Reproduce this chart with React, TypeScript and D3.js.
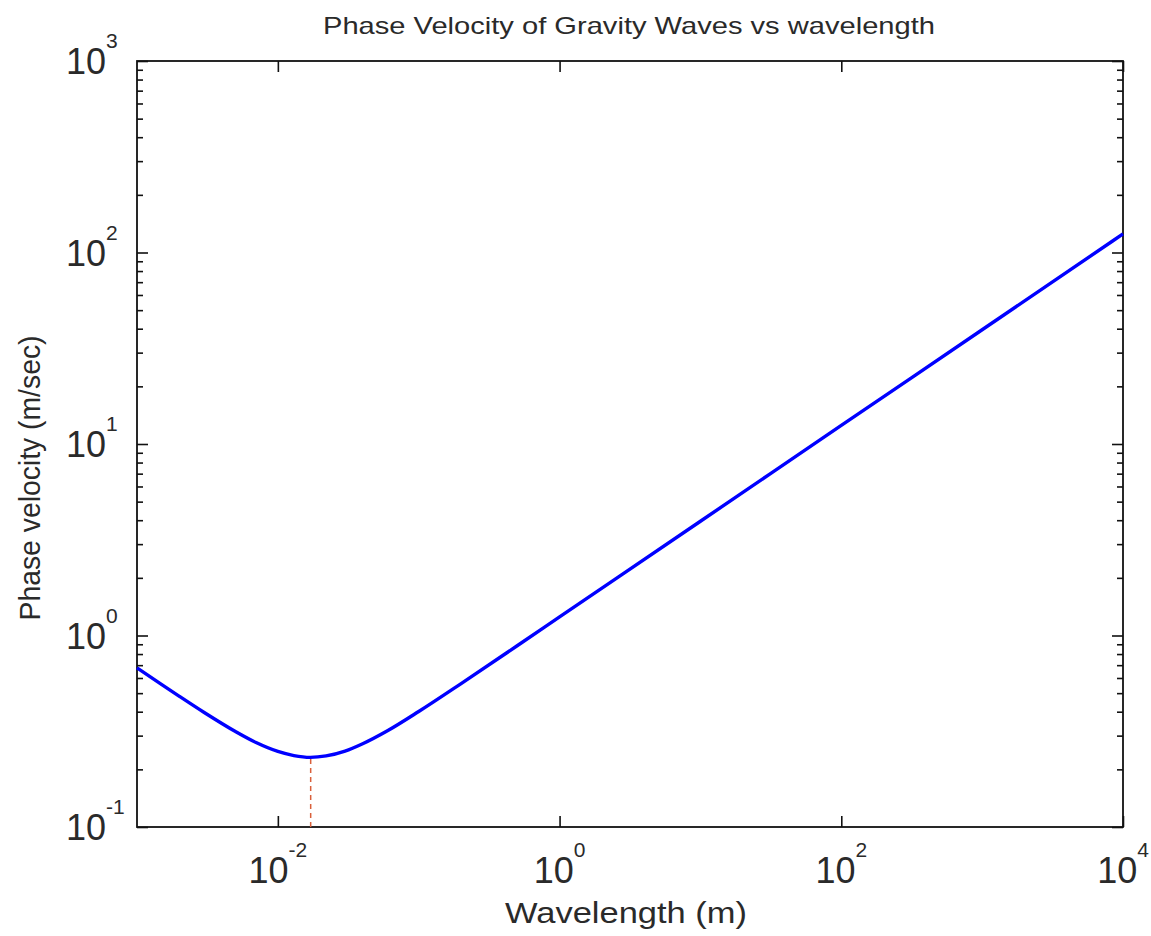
import React, { useRef, useEffect } from 'react';
import * as d3 from 'd3';

// values
const wavelength = [0.001, 0.0015, 0.002, 0.003, 0.005, 0.007, 0.01, 0.013, 0.017, 0.022, 0.03, 0.04, 0.06, 0.1, 0.2, 0.5, 1, 10, 100, 1000, 10000];
const velocity = [0.678, 0.554, 0.481, 0.396, 0.315, 0.276, 0.248, 0.236, 0.231, 0.235, 0.249, 0.272, 0.318, 0.401, 0.561, 0.884, 1.25, 3.95, 12.5, 39.5, 125];

const minWavelength = 0.0171;
const minVelocity = 0.231;

const xTickValues = [1e-2, 1, 1e2, 1e4];
const xTickExponents = ['-2', '0', '2', '4'];
const yTickValues = [1e-1, 1, 1e1, 1e2, 1e3];
const yTickExponents = ['-1', '0', '1', '2', '3'];

const W = 1151;
const H = 936;
const margin = { top: 61, right: 28, bottom: 109, left: 137 };
const FONT = 'Liberation Sans, Arial, Helvetica, sans-serif';
const TEXT = '#2a2a2a';

export default function App() {
    const svgRef = useRef<SVGSVGElement>(null);

    useEffect(() => {
        const svg = d3.select(svgRef.current);
        svg.selectAll('*').remove();

        const x = d3.scaleLog()
            .domain([1e-3, 1e4])
            .range([margin.left, W - margin.right]);
        const y = d3.scaleLog()
            .domain([1e-1, 1e3])
            .range([H - margin.bottom, margin.top]);

        const x0 = margin.left, x1 = W - margin.right;
        const y0 = H - margin.bottom, y1 = margin.top;

        // minor y ticks 2..9 per decade
        const yMinor: number[] = [];
        for (let e = -1; e < 3; e++) {
            for (let m = 2; m <= 9; m++) yMinor.push(m * Math.pow(10, e));
        }

        const styleAxis = (g: any) => {
            g.select('.domain').remove();
            g.selectAll('.tick line').attr('stroke', '#111').attr('stroke-width', 1.6);
            g.selectAll('.tick text').remove();
        };

        // bottom / top ticks (inward)
        svg.append('g').attr('transform', `translate(0,${y0})`)
            .call(d3.axisBottom(x).tickValues(xTickValues).tickSize(-11).tickFormat(() => ''))
            .call(styleAxis);
        svg.append('g').attr('transform', `translate(0,${y1})`)
            .call(d3.axisTop(x).tickValues(xTickValues).tickSize(-11).tickFormat(() => ''))
            .call(styleAxis);

        // left / right ticks, major and minor
        svg.append('g').attr('transform', `translate(${x0},0)`)
            .call(d3.axisLeft(y).tickValues(yTickValues).tickSize(-11).tickFormat(() => ''))
            .call(styleAxis);
        svg.append('g').attr('transform', `translate(${x0},0)`)
            .call(d3.axisLeft(y).tickValues(yMinor).tickSize(-6).tickFormat(() => ''))
            .call(styleAxis);
        svg.append('g').attr('transform', `translate(${x1},0)`)
            .call(d3.axisRight(y).tickValues(yTickValues).tickSize(-11).tickFormat(() => ''))
            .call(styleAxis);
        svg.append('g').attr('transform', `translate(${x1},0)`)
            .call(d3.axisRight(y).tickValues(yMinor).tickSize(-6).tickFormat(() => ''))
            .call(styleAxis);

        // frame
        svg.append('rect')
            .attr('x', x0).attr('y', y1)
            .attr('width', x1 - x0).attr('height', y0 - y1)
            .attr('fill', 'none')
            .attr('stroke', '#111')
            .attr('stroke-width', 1.8);

        // x tick labels
        xTickValues.forEach((v, i) => {
            const t = svg.append('text')
                .attr('x', x(v))
                .attr('y', y0 + 56)
                .attr('text-anchor', 'middle')
                .attr('font-family', FONT)
                .attr('fill', TEXT);
            t.append('tspan').attr('font-size', 36).text('10');
            t.append('tspan').attr('font-size', 21).attr('dy', -26).text(xTickExponents[i]);
        });

        // y tick labels
        yTickValues.forEach((v, i) => {
            const t = svg.append('text')
                .attr('x', 66)
                .attr('y', y(v) + 13)
                .attr('font-family', FONT)
                .attr('fill', TEXT);
            t.append('tspan').attr('font-size', 36).text('10');
            t.append('tspan').attr('font-size', 21).attr('dy', -26).text(yTickExponents[i]);
        });

        // dashed marker at the minimum
        svg.append('line')
            .attr('x1', x(minWavelength)).attr('x2', x(minWavelength))
            .attr('y1', y0).attr('y2', y(minVelocity))
            .attr('stroke', '#d9603b')
            .attr('stroke-width', 1.5)
            .attr('stroke-dasharray', '5,4');

        // curve
        const pts = wavelength.map((w, i) => [w, velocity[i]] as [number, number]);
        const line = d3.line<[number, number]>()
            .x(d => x(d[0]))
            .y(d => y(d[1]))
            .curve(d3.curveMonotoneX);
        svg.append('path')
            .datum(pts)
            .attr('fill', 'none')
            .attr('stroke', '#0000ff')
            .attr('stroke-width', 3.4)
            .attr('d', line);

        // title
        svg.append('text')
            .attr('x', 629)
            .attr('y', 34)
            .attr('text-anchor', 'middle')
            .attr('font-family', FONT)
            .attr('font-size', 24)
            .attr('textLength', 612)
            .attr('lengthAdjust', 'spacingAndGlyphs')
            .attr('fill', TEXT)
            .text('Phase Velocity of Gravity Waves vs wavelength');

        // axis labels
        svg.append('text')
            .attr('x', 626)
            .attr('y', 923)
            .attr('text-anchor', 'middle')
            .attr('font-family', FONT)
            .attr('font-size', 29)
            .attr('textLength', 242)
            .attr('lengthAdjust', 'spacingAndGlyphs')
            .attr('fill', TEXT)
            .text('Wavelength (m)');

        svg.append('text')
            .attr('transform', `translate(40,478) rotate(-90)`)
            .attr('text-anchor', 'middle')
            .attr('font-family', FONT)
            .attr('font-size', 30)
            .attr('textLength', 285)
            .attr('lengthAdjust', 'spacingAndGlyphs')
            .attr('fill', TEXT)
            .text('Phase velocity (m/sec)');
    }, []);

    return (
        <svg
            ref={svgRef}
            width={W}
            height={H}
            style={{ position: 'absolute', left: 0, top: 0, background: '#fff', display: 'block' }}
        />
    );
}
